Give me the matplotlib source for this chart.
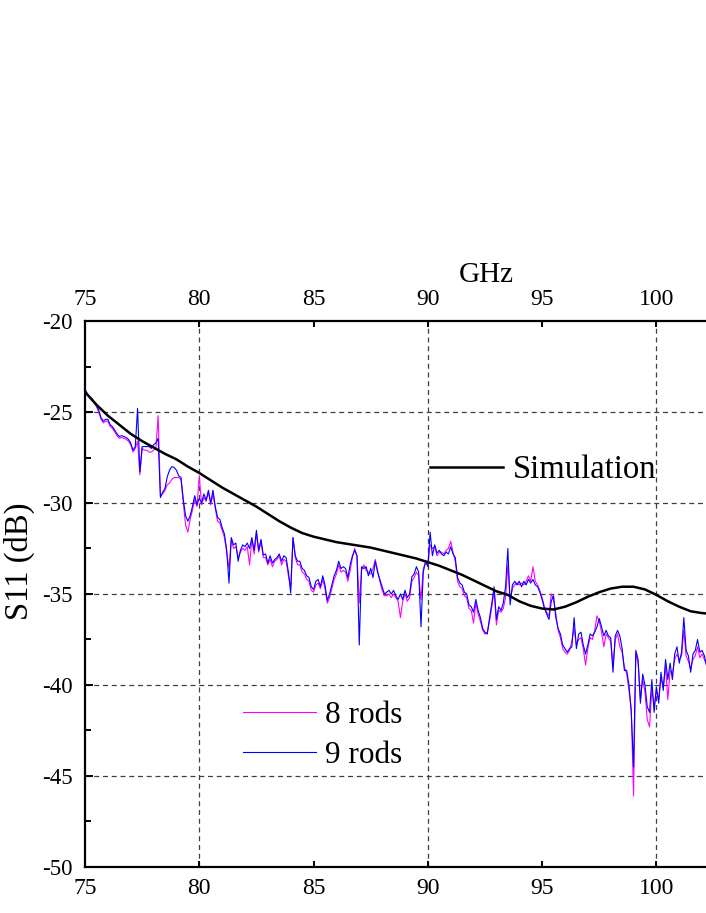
import numpy as np
import matplotlib
matplotlib.use('Agg')
import matplotlib.pyplot as plt
from matplotlib.ticker import MultipleLocator

plt.rcParams['font.family'] = ['Liberation Serif', 'DejaVu Serif']
plt.rcParams['axes.unicode_minus'] = False

# measured S11, 0.1 GHz step from 75.0 to 102.2
freq_start = 75.0
freq_step = 0.1

rods9 = [
    -23.8, -24.0, -24.15, -24.25, -24.45, -24.6, -24.9, -25.3, -25.5, -25.4,
    -25.4, -25.7, -25.8, -26.0, -26.2, -26.35, -26.3, -26.35, -26.4, -26.5,
    -26.7, -27.1, -26.9, -24.8, -28.3, -26.9, -26.9, -26.9, -26.9, -27.0,
    -26.8, -26.7, -26.45, -29.7, -29.4, -29.2, -28.55, -28.2, -28.0, -28.05,
    -28.2, -28.5, -28.6, -29.8, -30.7, -31.0, -30.7, -30.2, -29.6, -30.1,
    -29.75, -30.0, -29.5, -29.85, -29.3, -30.0, -29.3, -30.2, -30.8, -30.9,
    -31.35, -31.7, -32.6, -34.4, -31.9, -32.3, -32.2, -33.2, -32.6, -32.3,
    -32.4, -32.2, -32.5, -31.9, -32.6, -31.5, -32.6, -32.0, -32.86, -32.8,
    -33.3, -32.9, -33.3, -33.1, -33.0, -32.8, -33.2, -32.9, -33.0, -33.8,
    -34.95, -31.9, -32.9, -33.2, -33.2, -33.6, -33.7, -34.0, -34.1, -34.6,
    -34.75, -34.3, -34.2, -34.6, -34.0, -34.5, -35.35, -35.0, -34.5, -34.0,
    -33.7, -33.2, -33.6, -33.5, -33.6, -34.1, -33.4, -32.9, -32.6, -32.9,
    -37.8, -33.5, -33.6, -33.5, -34.0, -33.6, -34.1, -33.2, -33.8, -34.2,
    -34.6, -35.0, -34.9, -34.8, -35.0, -34.8, -35.1, -35.3, -35.0, -35.3,
    -34.8, -35.2, -35.0, -34.05, -33.9, -33.5, -33.8, -36.8, -33.8, -33.2,
    -33.5, -31.6, -32.9, -32.3, -32.75, -32.6, -32.8, -32.9, -32.7, -32.8,
    -32.4, -32.8, -33.0, -34.1, -34.4, -34.5, -34.9, -35.0, -35.6, -35.7,
    -36.0, -35.3, -35.9, -36.3, -36.9, -37.1, -37.2, -36.3, -35.5, -34.6,
    -36.4, -35.7, -35.9, -35.5, -34.6, -32.5, -35.6, -34.5, -34.3, -34.5,
    -34.3, -34.6, -34.3, -34.5, -34.2, -34.4, -34.2, -34.5, -34.6, -34.9,
    -35.3, -35.8, -36.1, -36.4, -35.4, -35.1, -36.3, -36.9, -37.2, -37.8,
    -38.0, -38.2, -38.0, -37.9, -36.3, -38.0, -37.2, -37.1, -37.8, -38.3,
    -37.8, -37.2, -37.3, -37.1, -36.8, -36.35, -36.8, -37.3, -37.0, -37.3,
    -37.4, -39.3, -37.3, -37.0, -37.3, -38.0, -39.2, -39.2, -40.0, -41.5,
    -44.5, -38.1, -38.6, -41.0, -39.4, -40.0, -41.2, -41.5, -39.7, -41.5,
    -40.1, -41.0, -39.3, -40.3, -38.6, -39.7, -38.8, -39.7, -38.3, -37.9,
    -38.8, -38.2, -36.3, -38.1, -38.4, -39.3, -38.3, -38.1, -37.5, -38.2,
    -38.1, -38.4, -39.0,
]

rods8 = [
    -23.7, -24.0, -24.2, -24.3, -24.5, -24.7, -25.0, -25.4, -25.6, -25.5,
    -25.5, -25.8, -25.9, -26.1, -26.3, -26.45, -26.4, -26.45, -26.5, -26.6,
    -26.8, -27.2, -27.0, -26.6, -28.45, -27.0, -27.1, -27.1, -27.2, -27.2,
    -27.1, -27.0, -25.2, -29.6, -29.5, -29.3, -29.0, -28.9, -28.7, -28.6,
    -28.6, -28.6, -28.7, -30.0, -31.2, -31.6, -30.9, -30.4, -29.8, -30.2,
    -28.5, -30.1, -29.7, -29.9, -29.4, -30.1, -29.5, -30.3, -31.0, -31.1,
    -31.5, -31.9, -32.7, -33.6, -32.0, -32.5, -32.4, -33.0, -32.7, -32.5,
    -32.6, -32.4, -33.4, -32.0, -32.8, -31.7, -32.7, -32.1, -33.0, -33.0,
    -33.4, -33.1, -33.5, -33.2, -33.1, -32.9, -33.4, -33.1, -33.2, -34.0,
    -34.6, -31.9, -33.0, -33.4, -33.4, -33.8, -33.9, -34.2, -34.3, -34.8,
    -34.9, -34.5, -34.4, -34.7, -34.2, -34.7, -35.5, -35.2, -34.7, -34.2,
    -33.9, -33.4, -33.8, -33.7, -33.8, -34.3, -33.7, -33.0, -32.5, -32.9,
    -35.5, -33.7, -33.4, -33.7, -33.8, -33.9, -33.6, -33.1, -33.7, -34.3,
    -34.8, -35.1, -35.1, -35.0, -35.2, -35.0, -35.2, -35.4, -36.3, -35.4,
    -35.0, -35.4, -35.2, -34.3, -34.1, -33.8, -34.0, -35.3, -33.6, -33.3,
    -33.4, -32.3, -32.5, -32.4, -32.9, -32.7, -32.7, -32.8, -32.6, -32.5,
    -32.1, -32.7, -33.2, -34.3, -34.6, -34.7, -35.1, -35.2, -35.8, -35.9,
    -36.6, -35.5, -36.1, -36.5, -37.0, -37.2, -37.1, -36.5, -35.7, -34.8,
    -36.7, -35.9, -36.0, -35.8, -35.2, -33.4, -35.3, -34.7, -34.5, -34.4,
    -34.5, -34.4, -34.5, -34.3, -34.0, -34.3, -33.5, -34.3, -34.5, -34.8,
    -35.2, -35.7, -36.0, -36.2, -35.0, -35.3, -36.1, -37.0, -37.4, -38.0,
    -38.2, -38.3, -38.1, -37.6, -36.9, -37.8, -37.5, -37.4, -38.0, -38.9,
    -38.0, -37.4, -37.5, -37.0, -36.2, -36.5, -37.1, -37.9, -37.2, -37.4,
    -37.6, -38.9, -37.5, -37.2, -37.9, -38.2, -39.0, -39.4, -40.3, -41.3,
    -46.1, -38.3, -38.8, -40.8, -39.7, -40.4, -41.9, -42.3, -40.2, -41.2,
    -40.3, -40.8, -39.6, -40.1, -39.0, -40.8, -39.2, -39.4, -38.6, -38.3,
    -38.6, -38.4, -37.0, -38.4, -38.7, -39.1, -38.6, -38.4, -37.9, -38.5,
    -38.3, -38.6, -38.9,
]

sim_freq = [75.0, 75.5, 76.0, 76.5, 77.0, 77.5, 78.0, 78.5, 79.0, 79.5,
            80.0, 80.5, 81.0, 81.5, 82.0, 82.5, 83.0, 83.5, 84.0, 84.5,
            85.0, 85.5, 86.0, 86.5, 87.0, 87.5, 88.0, 88.5, 89.0, 89.5,
            90.0, 90.5, 91.0, 91.5, 92.0, 92.5, 93.0, 93.5, 94.0, 94.5,
            95.0, 95.5, 96.0, 96.5, 97.0, 97.5, 98.0, 98.5, 99.0, 99.5,
            100.0, 100.5, 101.0, 101.5, 102.0, 102.2]
sim_s11 = [-23.9, -24.6, -25.2, -25.7, -26.2, -26.6, -26.95, -27.3, -27.6, -28.0,
           -28.35, -28.75, -29.15, -29.5, -29.85, -30.2, -30.6, -31.0, -31.35, -31.65,
           -31.85, -32.0, -32.15, -32.25, -32.35, -32.45, -32.6, -32.75, -32.9, -33.05,
           -33.25, -33.45, -33.7, -33.95, -34.25, -34.55, -34.85, -35.05, -35.4, -35.65,
           -35.8, -35.85, -35.7, -35.45, -35.15, -34.9, -34.7, -34.6, -34.6, -34.75,
           -35.05, -35.4, -35.7, -35.95, -36.05, -36.07]

meas_freq = freq_start + freq_step * np.arange(len(rods9))

fig = plt.figure(figsize=(7.06, 9.13), dpi=100)
ax = fig.add_axes([0.1204, 0.0504, 0.8796, 0.598])

# dashed grid like the original
for gx in [80, 90, 100]:
    ax.axvline(gx, color='0.25', lw=0.9, ls=(0, (4, 3)), zorder=1)
for gy in [-25, -30, -35, -40, -45]:
    ax.axhline(gy, color='0.25', lw=0.9, ls=(0, (4, 3)), zorder=1)

l8, = ax.plot(meas_freq, rods8, color='#FF00FF', lw=0.8, zorder=2)
l9, = ax.plot(meas_freq, rods9, color='#0000FF', lw=0.8, zorder=3)
ls, = ax.plot(sim_freq, sim_s11, color='black', lw=1.8, zorder=4)

ax.set_xlim(75, 102.17)
ax.set_ylim(-50, -20)
ax.xaxis.set_major_locator(MultipleLocator(5))
ax.yaxis.set_major_locator(MultipleLocator(5))
ax.yaxis.set_minor_locator(MultipleLocator(2.5))

for side in ['left', 'top', 'bottom']:
    ax.spines[side].set_linewidth(1.6)
ax.spines['right'].set_visible(False)

ax.tick_params(axis='x', which='major', direction='in', length=4, width=1.4,
               top=True, labeltop=True, labelsize=17, pad=8)
ax.tick_params(axis='y', which='major', direction='in', length=5.5, width=1.4,
               labelsize=16.5, pad=9)
ax.tick_params(axis='y', which='minor', direction='in', length=4.5, width=1.4)

ax.text(0.6457, 1.085, 'GHz', transform=ax.transAxes, fontsize=21,
        ha='center', va='center')
ax.text(-0.106, 0.56, 'S11 (dB)', transform=ax.transAxes, fontsize=23.5,
        rotation=90, ha='center', va='center')

leg1 = ax.legend([ls], ['Simulation'], loc='center left',
                 bbox_to_anchor=(0.5556, 0.727), frameon=False, fontsize=23.5,
                 handlelength=2.24, handletextpad=0.3, borderpad=0,
                 borderaxespad=0)
ax.add_artist(leg1)
ax.legend([l8, l9], ['8 rods', '9 rods'], loc='center left',
          bbox_to_anchor=(0.2544, 0.241), frameon=False, fontsize=22.5,
          handlelength=2.33, handletextpad=0.29, labelspacing=0.37,
          borderpad=0, borderaxespad=0)

fig.savefig('out.png', dpi=100)
